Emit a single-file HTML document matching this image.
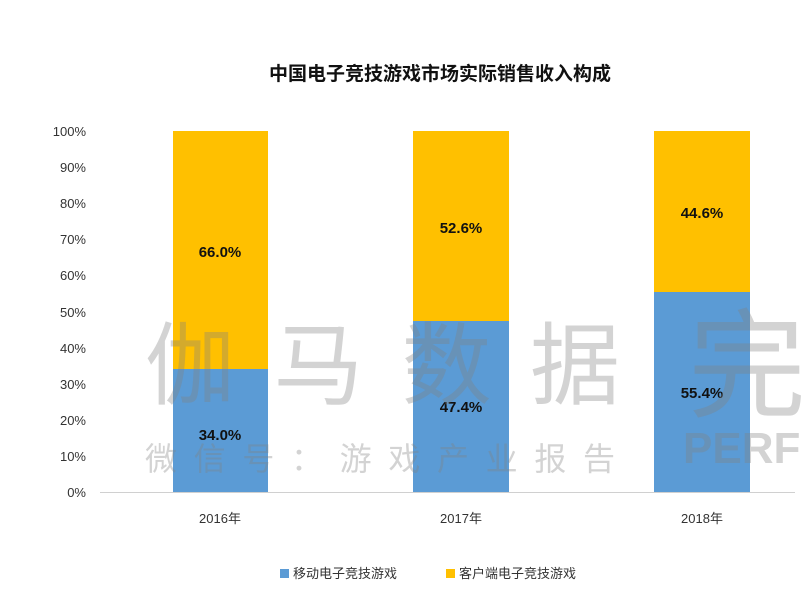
<!DOCTYPE html>
<html><head><meta charset="utf-8"><style>body{margin:0;background:#fff}</style></head>
<body>
<svg width="805" height="590" xmlns="http://www.w3.org/2000/svg" font-family="'Liberation Sans','Noto Sans CJK SC',sans-serif">
<rect width="805" height="590" fill="#fff"/>
<text x="440" y="80" text-anchor="middle" font-size="19" font-weight="bold" fill="#111">中国电子竞技游戏市场实际销售收入构成</text>
<g font-size="13" fill="#333" text-anchor="end">
<text x="86" y="497">0%</text><text x="86" y="461">10%</text><text x="86" y="425">20%</text><text x="86" y="389">30%</text><text x="86" y="353">40%</text><text x="86" y="317">50%</text><text x="86" y="280">60%</text><text x="86" y="244">70%</text><text x="86" y="208">80%</text><text x="86" y="172">90%</text><text x="86" y="136">100%</text>
</g>
<rect x="173" y="131" width="95" height="238" fill="#FFC000"/>
<rect x="173" y="369" width="95" height="123" fill="#5B9BD5"/>
<rect x="413" y="131" width="96" height="190" fill="#FFC000"/>
<rect x="413" y="321" width="96" height="171" fill="#5B9BD5"/>
<rect x="654" y="131" width="96" height="161" fill="#FFC000"/>
<rect x="654" y="292" width="96" height="200" fill="#5B9BD5"/>
<line x1="100" y1="492.5" x2="795" y2="492.5" stroke="#d0d0d0"/>
<g font-size="15" font-weight="bold" fill="#111" text-anchor="middle">
<text x="220" y="257">66.0%</text><text x="220" y="440">34.0%</text>
<text x="461" y="233">52.6%</text><text x="461" y="412">47.4%</text>
<text x="702" y="218">44.6%</text><text x="702" y="398">55.4%</text>
</g>
<g font-size="13" fill="#333" text-anchor="middle">
<text x="220" y="523">2016年</text><text x="461" y="523">2017年</text><text x="702" y="523">2018年</text>
</g>
<rect x="280" y="569" width="9" height="9" fill="#5B9BD5"/>
<text x="293" y="578" font-size="13" fill="#333">移动电子竞技游戏</text>
<rect x="446" y="569" width="9" height="9" fill="#FFC000"/>
<text x="459" y="578" font-size="13" fill="#333">客户端电子竞技游戏</text>
<g fill="#808080" fill-opacity="0.35">
<text x="145" y="397" font-size="90" textLength="475" lengthAdjust="spacing">伽马数据</text>
<text x="145" y="470" font-size="32" textLength="470" lengthAdjust="spacing">微信号：游戏产业报告</text>
<text x="688" y="408" font-size="118">完</text>
<text x="683" y="463" font-size="44" font-weight="bold" font-family="'Liberation Sans',sans-serif">PERF</text>
</g>
</svg>
</body></html>
